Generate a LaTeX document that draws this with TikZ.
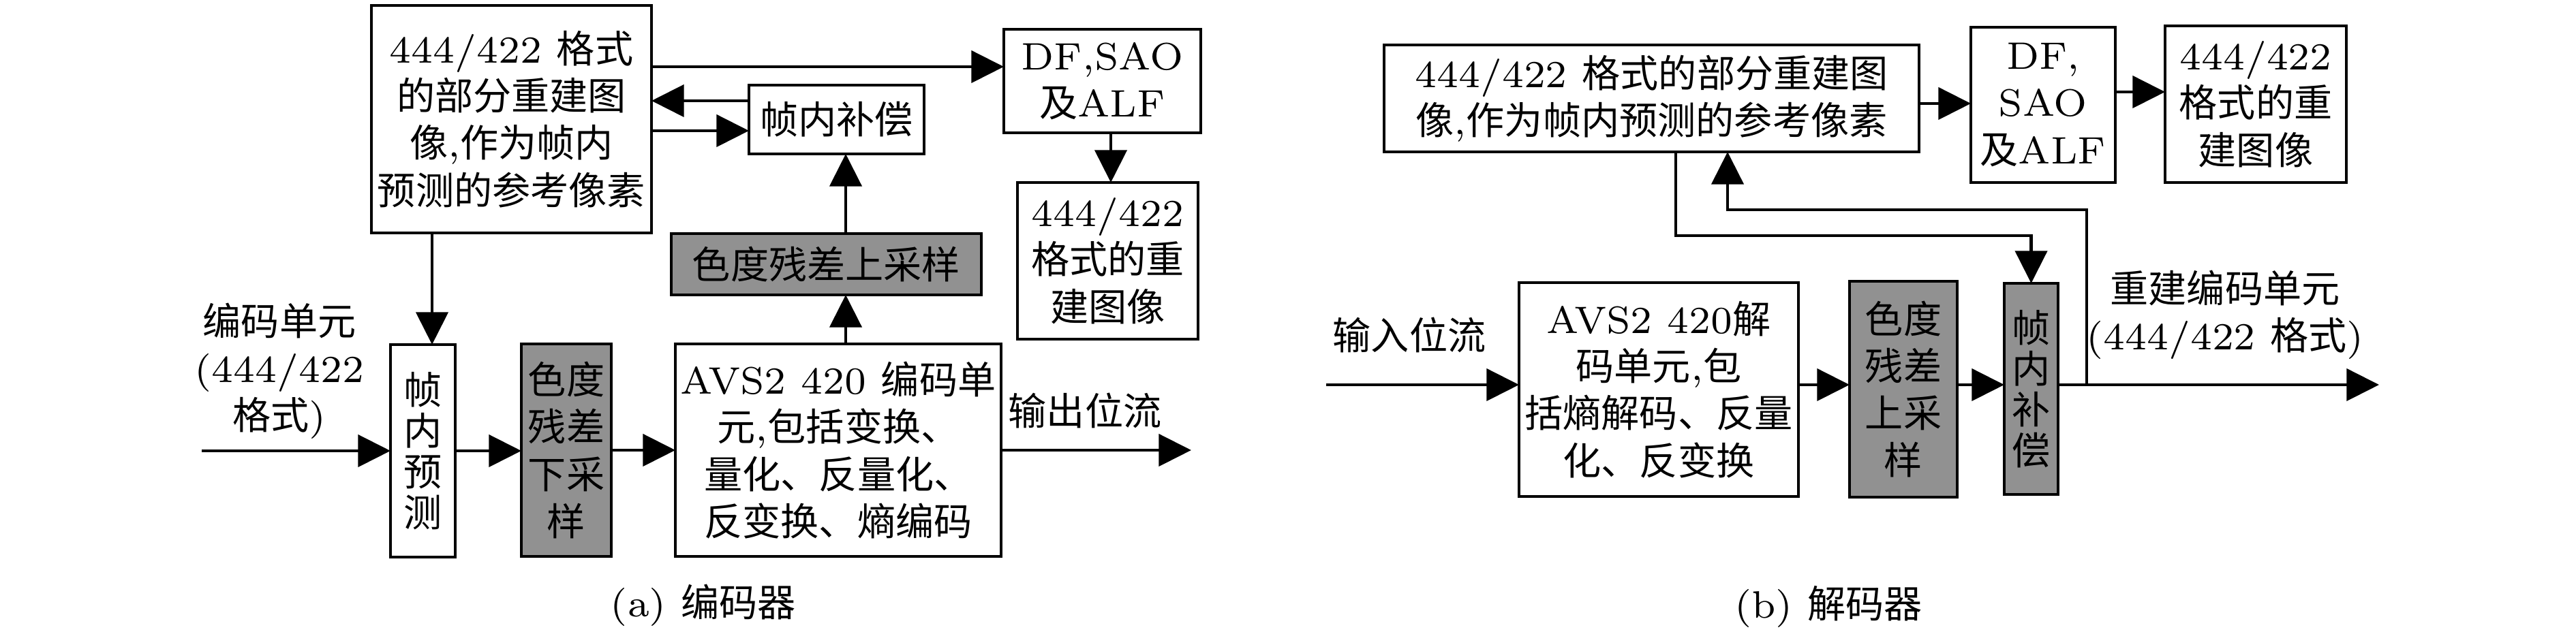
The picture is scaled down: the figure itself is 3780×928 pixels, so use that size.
\documentclass[tikz,border=0pt]{standalone}
\usepackage{fontspec}
\newfontfamily\cj{Noto Sans CJK SC}
\usetikzlibrary{arrows.meta}
\definecolor{boxgray}{RGB}{145,145,145}
\newcommand\rmx[1]{{\rmfamily #1}}
\newcommand\mkbox[7]{\node[#1, anchor=north west, minimum width={(#5-#3)*0.13pt}, minimum height={(#6-#4)*0.13pt}] (#2) at (#3,#4) {#7};}
\tikzset{
  box/.style={draw, line width=0.52pt, fill=white, inner sep=0pt, outer sep=0pt, align=center, font=\cj\fontsize{7.3pt}{9pt}\selectfont},
  gbox/.style={box, fill=boxgray},
  vbox/.style={box, font=\cj\fontsize{7.3pt}{7.8pt}\selectfont},
  gvbox/.style={vbox, fill=boxgray},
  arr/.style={line width=0.62pt, -{Triangle[length=6.2pt,width=6.1pt]}},
  lbl/.style={inner sep=0pt, align=center, font=\cj\fontsize{7.3pt}{9pt}\selectfont}
}
\begin{document}
\begin{tikzpicture}[x=0.13pt,y=-0.13pt]
\useasboundingbox (0,0) rectangle (3780,928);
% ---------------- encoder ----------------
\mkbox{box}{big}{545}{8}{956}{342}{\rmx{444/422 }格式\\的部分重建图\\像\rmx{,}作为帧内\\预测的参考像素}
\mkbox{box}{ic}{1099}{125}{1356}{226}{帧内补偿}
\mkbox{box}{df}{1473}{43}{1762}{195}{\rmx{DF,SAO}\\及\rmx{ALF}}
\mkbox{box}{rec}{1493}{268}{1758}{498}{\rmx{444/422}\\格式的重\\建图像}
\mkbox{gbox}{us}{985}{343}{1440}{433}{色度残差上采样}
\mkbox{vbox}{fp}{573}{506}{668}{818}{帧\\内\\预\\测}
\mkbox{gbox}{ds}{765}{505}{897}{817}{色度\\残差\\下采\\样}
\mkbox{box}{avs}{991}{505}{1469}{817}{\rmx{AVS2 420 }编码单\\元\rmx{,}包括变换、\\量化、反量化、\\反变换、熵编码}
\coordinate (inE) at (296,662);
\coordinate (outE) at (1748,662);
\coordinate (xa) at (1241,0);
\coordinate (ya) at (0,148);
\coordinate (yb) at (0,192);
\coordinate (yc) at (0,98);
\coordinate (xr) at (1630,0);
\coordinate (xf) at (634,0);
\draw[arr] (inE) -- (inE -| fp.west);
\draw[arr] (fp.east) -- (fp.east -| ds.west);
\draw[arr] (ds.east) -- (ds.east -| avs.west);
\draw[arr] (avs.east) -- (avs.east -| outE);
\draw[arr] (avs.north -| xa) -- (us.south -| xa);
\draw[arr] (us.north -| xa) -- (ic.south -| xa);
\draw[arr] (ic.west |- ya) -- (big.east |- ya);
\draw[arr] (big.east |- yb) -- (ic.west |- yb);
\draw[arr] (big.east |- yc) -- (df.west |- yc);
\draw[arr] (df.south -| xr) -- (rec.north -| xr);
\draw[arr] (big.south -| xf) -- (fp.north -| xf);
\node[lbl] (inLblE) at (410,545) {编码单元\\\rmx{(444/422}\\格式\rmx{)}};
\node[lbl] (outLblE) at (1592,603) {输出位流};
\node[lbl] (capA) at (1032,889) {\rmx{(a) }编码器};
% ---------------- decoder ----------------
\mkbox{box}{bigD}{2031}{66}{2816}{223}{\rmx{444/422 }格式的部分重建图\\像\rmx{,}作为帧内预测的参考像素}
\mkbox{box}{dfD}{2892}{40}{3104}{268}{\rmx{DF,}\\\rmx{SAO}\\及\rmx{ALF}}
\mkbox{box}{recD}{3177}{38}{3443}{268}{\rmx{444/422}\\格式的重\\建图像}
\mkbox{box}{avsD}{2229}{415}{2639}{729}{\rmx{AVS2 420}解\\码单元\rmx{,}包\\括熵解码、反量\\化、反变换}
\mkbox{gbox}{usD}{2714}{413}{2872}{730}{色度\\残差\\上采\\样}
\mkbox{gvbox}{icD}{2941}{416}{3020}{726}{帧\\内\\补\\偿}
\coordinate (yd) at (0,565);
\coordinate (inD) at (1946,565);
\coordinate (outD) at (3491,565);
\coordinate (xb) at (2459,0);
\coordinate (yb2) at (0,346);
\coordinate (jn) at (3062,565);
\coordinate (xd) at (2535,0);
\coordinate (ye) at (0,308);
\coordinate (yf) at (0,152);
\coordinate (yg) at (0,135);
\draw[arr] (inD) -- (inD -| avsD.west);
\draw[arr] (avsD.east |- yd) -- (usD.west |- yd);
\draw[arr] (usD.east |- yd) -- (icD.west |- yd);
\draw[arr] (icD.east |- yd) -- (outD);
\draw[arr] (bigD.south -| xb) -- (xb |- yb2) -| (icD.north);
\draw[arr] (jn) |- (xd |- ye) -- (bigD.south -| xd);
\draw[arr] (bigD.east |- yf) -- (dfD.west |- yf);
\draw[arr] (dfD.east |- yg) -- (recD.west |- yg);
\node[lbl] (inLblD) at (2068,492) {输入位流};
\node[lbl] (outLblD) at (3265,462) {重建编码单元\\\rmx{(444/422 }格式\rmx{)}};
\node[lbl] (capB) at (2683,891) {\rmx{(b) }解码器};
\end{tikzpicture}
\end{document}
